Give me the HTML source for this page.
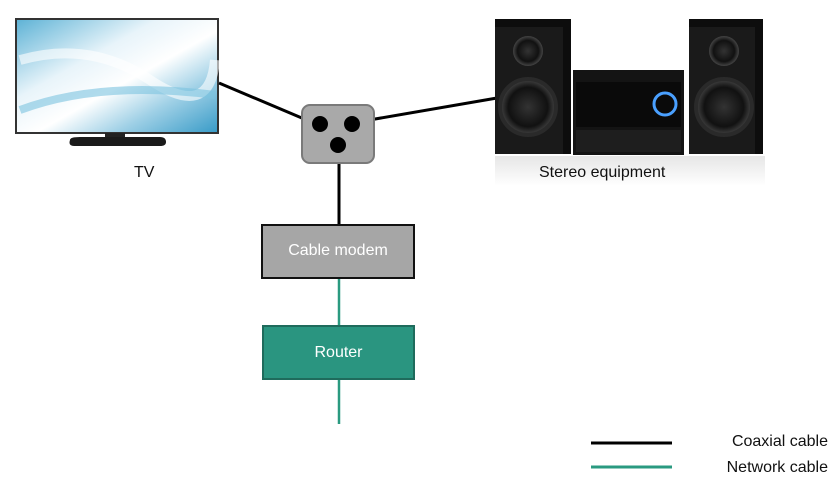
<!DOCTYPE html>
<html><head><meta charset="utf-8"><style>
body{margin:0;width:834px;height:485px;background:#fff;position:relative;overflow:hidden;font-family:"Liberation Sans",sans-serif}
.t{position:absolute;font-size:16px;color:#111;white-space:nowrap}
</style></head><body>
<svg width="834" height="485" style="position:absolute;left:0;top:0">
<defs>
<linearGradient id="scr" x1="0" y1="0" x2="1" y2="1">
<stop offset="0" stop-color="#5fb3d6"/><stop offset="0.35" stop-color="#e8f4fa"/><stop offset="0.55" stop-color="#ffffff"/><stop offset="0.75" stop-color="#9fd0e6"/><stop offset="1" stop-color="#3a9cc8"/></linearGradient>
<radialGradient id="spk"><stop offset="0" stop-color="#333"/><stop offset="0.7" stop-color="#111"/><stop offset="1" stop-color="#444"/></radialGradient>
<linearGradient id="refl" x1="0" y1="0" x2="0" y2="1"><stop offset="0" stop-color="#e6e6e6"/><stop offset="1" stop-color="#ffffff"/></linearGradient>
</defs>
<!-- TV -->
<rect x="15" y="18" width="204" height="116" fill="#333"/>
<rect x="17" y="20" width="200" height="112" fill="url(#scr)"/>
<path d="M20 60 Q90 40 150 80 T215 60" stroke="#fff" stroke-width="10" fill="none" opacity="0.6"/>
<path d="M20 110 Q100 80 215 95" stroke="#7cc3e0" stroke-width="8" fill="none" opacity="0.6"/>
<rect x="105" y="133" width="20" height="6" fill="#222"/>
<path d="M70 140 Q70 137 80 137 L160 137 Q166 137 166 142 Q166 146 160 146 L74 146 Q68 146 70 140Z" fill="#1a1a1a"/>
<!-- lines -->
<g stroke="#000" stroke-width="3" fill="none">
<line x1="219" y1="83" x2="316" y2="124"/>
<line x1="352" y1="123" x2="497" y2="98"/>
<line x1="339" y1="145" x2="339" y2="225"/>
</g>
<!-- splitter -->
<rect x="302" y="105" width="72" height="58" rx="8" fill="#a9a9a9" stroke="#7a7a7a" stroke-width="2"/>
<circle cx="320" cy="124" r="8" fill="#000"/><circle cx="352" cy="124" r="8" fill="#000"/><circle cx="338" cy="145" r="8" fill="#000"/>
<!-- stereo -->
<g>
<rect x="495" y="156" width="270" height="30" fill="url(#refl)"/>
<rect x="495" y="19" width="76" height="135" fill="#0d0d0d"/>
<rect x="495" y="27" width="68" height="127" fill="#1a1a1a"/>
<circle cx="528" cy="51" r="15" fill="url(#spk)"/>
<circle cx="528" cy="107" r="28" fill="url(#spk)" stroke="#2a2a2a" stroke-width="4"/>
<rect x="689" y="19" width="74" height="135" fill="#0d0d0d"/>
<rect x="689" y="27" width="66" height="127" fill="#1a1a1a"/>
<circle cx="724" cy="51" r="15" fill="url(#spk)"/>
<circle cx="724" cy="107" r="28" fill="url(#spk)" stroke="#2a2a2a" stroke-width="4"/>
<rect x="573" y="70" width="111" height="85" fill="#141414"/>
<rect x="576" y="82" width="105" height="45" fill="#0a0a0a"/>
<circle cx="665" cy="104" r="11" fill="#0a0a0a" stroke="#4aa0ff" stroke-width="3"/>
<rect x="576" y="130" width="105" height="22" fill="#1e1e1e"/>
</g>
<!-- network lines -->
<g stroke="#2a9a80" stroke-width="2.5">
<line x1="339" y1="279" x2="339" y2="326"/>
<line x1="339" y1="380" x2="339" y2="424"/>
</g>
<rect x="262" y="225" width="152" height="53" fill="#a6a6a6" stroke="#111" stroke-width="2"/>
<rect x="263" y="326" width="151" height="53" fill="#2a9580" stroke="#1f6b5c" stroke-width="2"/>
<!-- legend -->
<line x1="591" y1="443" x2="672" y2="443" stroke="#000" stroke-width="3"/>
<line x1="591" y1="467" x2="672" y2="467" stroke="#2a9a80" stroke-width="3"/>
</svg>
<div class="t" style="left:134px;top:164px">TV</div>
<div class="t" style="left:539px;top:164px">Stereo equipment</div>
<div class="t" style="left:262px;top:242px;width:152px;text-align:center;color:#fff">Cable modem</div>
<div class="t" style="left:263px;top:344px;width:151px;text-align:center;color:#fff">Router</div>
<div class="t" style="right:6px;top:433px">Coaxial cable</div>
<div class="t" style="right:6px;top:459px">Network cable</div>
</body></html>
